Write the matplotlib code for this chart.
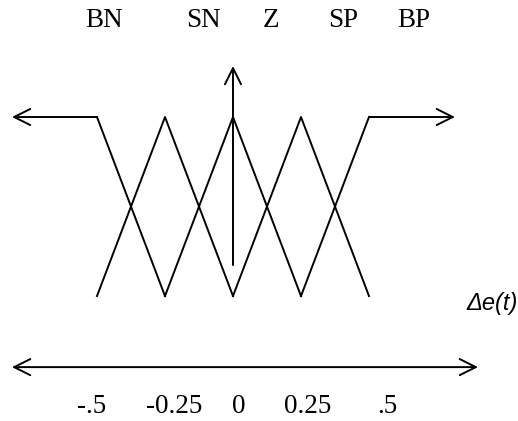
import matplotlib
matplotlib.use("Agg")
import matplotlib.pyplot as plt

# fuzzy sets for delta e(t)
sets = ["BN", "SN", "Z", "SP", "BP"]
centers = [-0.5, -0.25, 0.0, 0.25, 0.5]
tick_labels = ["-.5", "-0.25", "0", "0.25", ".5"]

# where the text sits (data coords of the drawing)
set_label_x = [-0.474, -0.107, 0.140, 0.404, 0.665]
tick_label_x = [-0.518, -0.217, 0.022, 0.276, 0.566]

fig = plt.figure(figsize=(5.18, 4.21), dpi=100)
ax = fig.add_axes([0, 0, 1, 1])
ax.set_xlim(-0.8566, 1.0478)
ax.set_ylim(-0.698, 1.6536)
ax.axis("off")

lw = 1.4
arrow = dict(arrowstyle="->", mutation_scale=29, lw=lw, color="black",
             shrinkA=0, shrinkB=0)

# shoulders
ax.plot([centers[0], centers[1]], [1, 0], color="black", lw=lw)
ax.plot([centers[3], centers[4]], [0, 1], color="black", lw=lw)
ax.annotate("", xy=(-0.8125, 1), xytext=(centers[0], 1), arrowprops=arrow)
ax.annotate("", xy=(0.816, 1), xytext=(centers[4], 1), arrowprops=arrow)

# triangles
for i in range(1, 4):
    ax.plot([centers[i - 1], centers[i], centers[i + 1]], [0, 1, 0],
            color="black", lw=lw)

# vertical axis
ax.annotate("", xy=(0, 1.285), xytext=(0, 0.173), arrowprops=arrow)

# bottom double arrow
ax.annotate("", xy=(-0.8125, -0.397), xytext=(0.9007, -0.397),
            arrowprops=dict(arrow, arrowstyle="<->"))

for x, s in zip(set_label_x, sets):
    ax.text(x, 1.539, s, ha="center", va="center", fontsize=19.5,
            family="Liberation Serif")

for x, s in zip(tick_label_x, tick_labels):
    ax.text(x, -0.615, s, ha="center", va="center", fontsize=19.5,
            family="Liberation Serif")

ax.text(0.860, -0.039, "\u0394e(t)", ha="left", va="center",
        fontsize=17, family="Liberation Sans", style="italic")

fig.savefig("out.png", dpi=100)
